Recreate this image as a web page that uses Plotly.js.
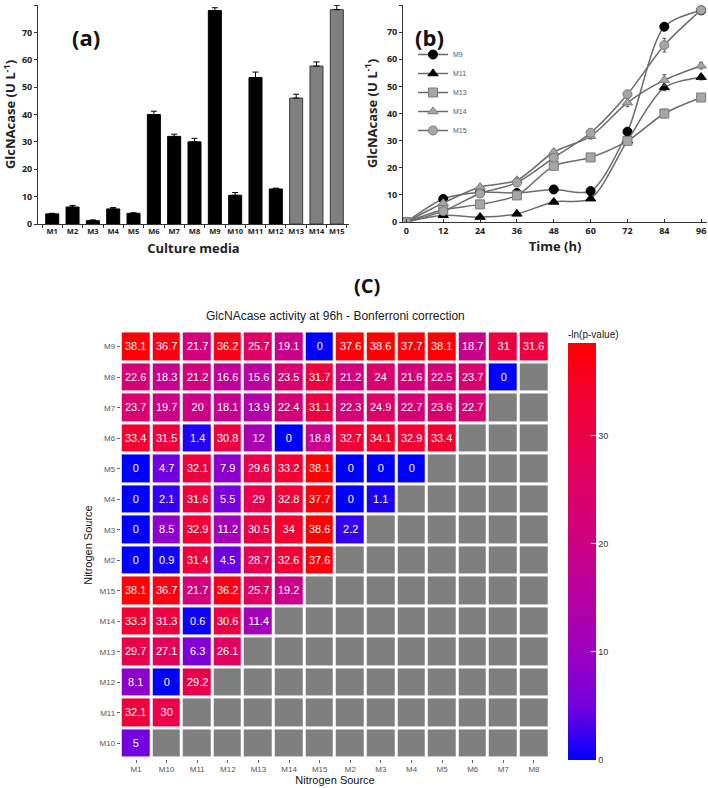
<!DOCTYPE html>
<html>
<head>
<meta charset="utf-8">
<script src="https://cdn.plot.ly/plotly-3.0.1.min.js"></script>
<style>html,body{margin:0;padding:0;background:#fff;}#chart{width:708px;height:788px;}</style>
</head>
<body>
<div id="chart"></div>
<script>
// ---------- Panel (a): GlcNAcase by culture media ----------
const media = ['M1','M2','M3','M4','M5','M6','M7','M8','M9','M10','M11','M12','M13','M14','M15'];
const activity = [3.7, 6.2, 1.2, 5.5, 3.9, 40, 32, 30, 78, 10.5, 53.5, 12.8, 46, 57.7, 78.3];
const activityErr = [0.2, 0.6, 0.3, 0.5, 0.2, 1.2, 0.8, 1.3, 1.0, 1.0, 2.0, 0.3, 1.4, 1.5, 1.6];

// ---------- Panel (b): time course ----------
const timeH = [0, 12, 24, 36, 48, 60, 72, 84, 96];
const m9  = [0, 8.5, 11, 10.7, 12, 11.4, 33.3, 72, 78];
const m11 = [0, 2.5, 1.8, 3, 7.4, 8.6, 30, 49.6, 53.4];
const m13 = [0, 4.5, 6.5, 9.8, 20.7, 23.8, 29.9, 40, 45.9];
const m14 = [0, 7, 12.9, 15.4, 25.8, 31.6, 44, 52.3, 57.6];
const m15 = [0, 4, 10.5, 14.5, 23.7, 32.9, 47.1, 65.2, 78.2];
const m9Err  = [0, 0.6, 0.5, 0.5, 0.5, 0.5, 1.0, 1.0, 0.8];
const m11Err = [0, 0.4, 0.3, 0.3, 0.5, 0.5, 1.0, 1.2, 1.0];
const m13Err = [0, 0.5, 0.5, 0.6, 0.8, 0.8, 1.0, 1.6, 1.0];
const m14Err = [0, 0.6, 0.6, 0.8, 1.0, 1.0, 1.5, 2.0, 1.2];
const m15Err = [0, 0.5, 0.6, 0.8, 1.0, 1.0, 1.2, 2.5, 1.0];

// ---------- Panel (C): heatmap ----------
const colSources = ['M1','M10','M11','M12','M13','M14','M15','M2','M3','M4','M5','M6','M7','M8'];
const rowSources = ['M9','M8','M7','M6','M5','M4','M3','M2','M15','M14','M13','M12','M11','M10'];
const rowM9  = [38.1, 36.7, 21.7, 36.2, 25.7, 19.1, 0, 37.6, 38.6, 37.7, 38.1, 18.7, 31, 31.6];
const rowM8  = [22.6, 18.3, 21.2, 16.6, 15.6, 23.5, 31.7, 21.2, 24, 21.6, 22.5, 23.7, 0, null];
const rowM7  = [23.7, 19.7, 20, 18.1, 13.9, 22.4, 31.1, 22.3, 24.9, 22.7, 23.6, 22.7, null, null];
const rowM6  = [33.4, 31.5, 1.4, 30.8, 12, 0, 18.8, 32.7, 34.1, 32.9, 33.4, null, null, null];
const rowM5  = [0, 4.7, 32.1, 7.9, 29.6, 33.2, 38.1, 0, 0, 0, null, null, null, null];
const rowM4  = [0, 2.1, 31.6, 5.5, 29, 32.8, 37.7, 0, 1.1, null, null, null, null, null];
const rowM3  = [0, 8.5, 32.9, 11.2, 30.5, 34, 38.6, 2.2, null, null, null, null, null, null];
const rowM2  = [0, 0.9, 31.4, 4.5, 28.7, 32.6, 37.6, null, null, null, null, null, null, null];
const rowM15 = [38.1, 36.7, 21.7, 36.2, 25.7, 19.2, null, null, null, null, null, null, null, null];
const rowM14 = [33.3, 31.3, 0.6, 30.6, 11.4, null, null, null, null, null, null, null, null, null];
const rowM13 = [29.7, 27.1, 6.3, 26.1, null, null, null, null, null, null, null, null, null, null];
const rowM12 = [8.1, 0, 29.2, null, null, null, null, null, null, null, null, null, null, null];
const rowM11 = [32.1, 30, null, null, null, null, null, null, null, null, null, null, null, null];
const rowM10 = [5, null, null, null, null, null, null, null, null, null, null, null, null, null];
const colorbarTicks = [0, 10, 20, 30];

const W = 708, H = 788;
const px = v => v / W;
const py = v => 1 - v / H;

const zMatrix = [rowM9,rowM8,rowM7,rowM6,rowM5,rowM4,rowM3,rowM2,rowM15,rowM14,rowM13,rowM12,rowM11,rowM10];
const textMatrix = zMatrix.map(r => r.map(v => v === null ? '' : String(v)));
const naMatrix = zMatrix.map(r => r.map(v => v === null ? 1 : null));

const calib = 'Open Sans, Liberation Sans, sans-serif';
const arial = 'Liberation Sans, Arial, sans-serif';

const traces = [];

// bars
traces.push({
  type: 'bar', x: media, y: activity, xaxis: 'x', yaxis: 'y',
  width: 0.64,
  marker: {
    color: media.map((m, i) => i >= 12 ? '#808080' : '#000000'),
    line: {color: media.map((m, i) => i >= 12 ? '#3a3a3a' : '#000000'), width: 1}
  },
  error_y: {type: 'data', symmetric: false, array: activityErr, arrayminus: activityErr.map(() => 0),
            color: '#000', thickness: 1, width: 3},
  showlegend: false, hoverinfo: 'x+y'
});

// lines
const series = [
  {name: 'M9',  y: m9,  e: m9Err,  sym: 'circle',       fill: '#000000', edge: '#000000'},
  {name: 'M11', y: m11, e: m11Err, sym: 'triangle-up',  fill: '#000000', edge: '#000000'},
  {name: 'M13', y: m13, e: m13Err, sym: 'square',       fill: '#a6a6a6', edge: '#7a7a7a'},
  {name: 'M14', y: m14, e: m14Err, sym: 'triangle-up',  fill: '#a6a6a6', edge: '#7a7a7a'},
  {name: 'M15', y: m15, e: m15Err, sym: 'circle',       fill: '#a6a6a6', edge: '#7a7a7a'}
];
series.forEach((s, i) => {
  traces.push({
    type: 'scatter', mode: 'lines+markers', name: s.name, x: timeH, y: s.y,
    xaxis: 'x2', yaxis: 'y2', legendgroup: 'g' + i,
    line: {color: '#6b6b6b', width: 1.5, shape: 'spline', smoothing: 0.8},
    marker: {symbol: s.sym, size: 9, color: s.fill, line: {color: s.edge, width: 1}},
    error_y: {type: 'data', array: s.e, color: '#555', thickness: 1, width: 2}
  });
});

// heatmap NA cells (grey)
traces.push({
  type: 'heatmap', x: colSources, y: rowSources, z: naMatrix,
  xaxis: 'x3', yaxis: 'y3', xgap: 3, ygap: 3,
  colorscale: [[0, '#7f7f7f'], [1, '#7f7f7f']], showscale: false,
  hoverinfo: 'skip', showlegend: false
});
// heatmap values
traces.push({
  type: 'heatmap', x: colSources, y: rowSources, z: zMatrix,
  xaxis: 'x3', yaxis: 'y3', xgap: 3, ygap: 3,
  zmin: 0, zmax: 38.6,
  colorscale: [
    [0, '#0000FF'], [0.125, '#7300E0'], [0.25, '#9A00C2'], [0.375, '#B500A5'],
    [0.5, '#CA0089'], [0.625, '#DA006C'], [0.75, '#E8004F'], [0.875, '#F40031'], [1, '#FF0000']
  ],
  text: textMatrix, texttemplate: '%{text}',
  textfont: {family: arial, size: 11, color: '#ffffff'},
  showlegend: false,
  colorbar: {
    x: px(568), xanchor: 'left', y: py(760), yanchor: 'bottom',
    len: 433, lenmode: 'pixels', thickness: 28, thicknessmode: 'pixels',
    xpad: 0, ypad: 0, outlinewidth: 0,
    tickvals: colorbarTicks, ticks: 'inside', ticklen: 5, tickcolor: '#ffffff',
    tickfont: {family: arial, size: 9, color: '#333333'},
    title: {text: '-ln(p-value)', side: 'top', font: {family: arial, size: 10, color: '#1a1a1a'}}
  }
});

const boldTick = {family: calib, size: 9, color: '#222', weight: 'bold'};
const boldTitle = {family: calib, size: 13, color: '#222', weight: 'bold'};

const layout = {
  width: W, height: H,
  margin: {l: 0, r: 0, t: 0, b: 0},
  paper_bgcolor: '#ffffff', plot_bgcolor: 'rgba(0,0,0,0)',
  showlegend: true,
  legend: {
    x: px(413), y: py(40), xanchor: 'left', yanchor: 'top',
    font: {family: arial, size: 7, color: '#595959'},
    bgcolor: 'rgba(0,0,0,0)', tracegroupgap: 0, itemwidth: 30
  },
  xaxis: {
    domain: [px(38), px(349)], anchor: 'y', range: [-0.7, 14.6],
    type: 'category', showline: true, linecolor: '#333', linewidth: 1,
    ticks: 'outside', ticklen: 3, tickcolor: '#333', tickson: 'boundaries', tickangle: 0,
    showgrid: false, zeroline: false, tickfont: {family: calib, size: 7.5, color: '#222', weight: 'bold'},
    title: {text: 'Culture media', font: boldTitle, standoff: 8}
  },
  yaxis: {
    domain: [py(224), py(5)], anchor: 'x', range: [0, 80], dtick: 10,
    showline: true, linecolor: '#333', linewidth: 1, ticks: 'outside', ticklen: 3, tickcolor: '#333',
    showgrid: false, zeroline: false, tickfont: boldTick,
    title: {text: 'GlcNAcase (U L<sup>-1</sup>)', font: boldTitle, standoff: 6}
  },
  xaxis2: {
    domain: [px(403), px(707)], anchor: 'y2', range: [-1.1, 97.9],
    tickvals: timeH, showline: true, linecolor: '#333', linewidth: 1,
    ticks: 'inside', ticklen: 3, tickcolor: '#333',
    showgrid: false, zeroline: false, tickfont: boldTick,
    title: {text: 'Time (h)', font: boldTitle, standoff: 6}
  },
  yaxis2: {
    domain: [py(222), py(5)], anchor: 'x2', range: [0, 80], dtick: 10,
    showline: true, linecolor: '#333', linewidth: 1, ticks: 'outside', ticklen: 3, tickcolor: '#333',
    showgrid: false, zeroline: false, tickfont: boldTick,
    title: {text: 'GlcNAcase (U L<sup>-1</sup>)', font: boldTitle, standoff: 6}
  },
  xaxis3: {
    domain: [px(120.7), px(549.3)], anchor: 'y3', type: 'category',
    categoryorder: 'array', categoryarray: colSources,
    ticks: 'outside', ticklen: 3, tickcolor: '#666', showline: false, showgrid: false, zeroline: false,
    tickfont: {family: arial, size: 8, color: '#555'},
    title: {text: 'Nitrogen Source', font: {family: arial, size: 11, color: '#111'}, standoff: 2}
  },
  yaxis3: {
    domain: [py(758.6), py(331.4)], anchor: 'x3', type: 'category',
    categoryorder: 'array', categoryarray: rowSources, autorange: 'reversed',
    ticks: 'outside', ticklen: 3, tickcolor: '#666', showline: false, showgrid: false, zeroline: false,
    tickfont: {family: arial, size: 8, color: '#555'},
    title: {text: 'Nitrogen Source', font: {family: arial, size: 11, color: '#111'}, standoff: 4}
  },
  annotations: [
    {text: '(a)', x: px(70), y: py(20), xref: 'paper', yref: 'paper', showarrow: false,
     font: {family: calib, size: 22, color: '#111', weight: 'bold'}},
    {text: '(b)', x: px(429), y: py(20), xref: 'paper', yref: 'paper', showarrow: false,
     font: {family: calib, size: 22, color: '#111', weight: 'bold'}},
    {text: '(C)', x: px(367), y: py(285), xref: 'paper', yref: 'paper', showarrow: false,
     font: {family: calib, size: 20, color: '#111', weight: 'bold'}},
    {text: 'GlcNAcase activity at 96h - Bonferroni correction', x: px(335), y: py(316),
     xref: 'paper', yref: 'paper', showarrow: false,
     font: {family: arial, size: 12, color: '#1a1a1a'}}
  ]
};

Plotly.newPlot('chart', traces, layout, {displayModeBar: false, staticPlot: true});
</script>
</body>
</html>
